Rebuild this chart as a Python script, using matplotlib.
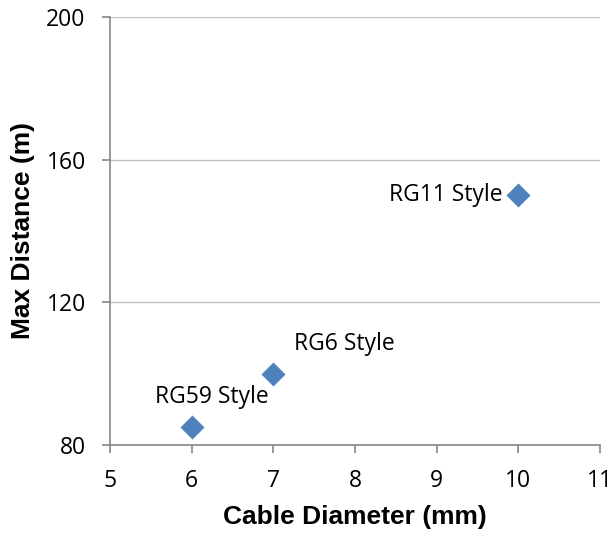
import matplotlib.pyplot as plt

diameter = [6, 7, 10]
distance = [85, 100, 150]
names = ["RG59 Style", "RG6 Style", "RG11 Style"]

fig = plt.figure(figsize=(6.16, 5.36), dpi=100)
ax = fig.add_axes([0.1786, 0.1698, 0.7954, 0.7985])

ax.scatter(diameter, distance, marker="D", s=150, color="#4F81BD", zorder=3, linewidths=0)

# label offsets in pixels
offsets = [(20, 30, "center"), (71, 30, "center"), (-16, 0, "right")]
for x, y, name, (dx, dy, ha) in zip(diameter, distance, names, offsets):
    ax.annotate(name, (x, y), xytext=(dx, dy), textcoords="offset pixels",
                ha=ha, va="center", fontsize=16.5, family="Open Sans")

ax.set_xlim(5, 11)
ax.set_ylim(80, 200)
ax.set_xticks(range(5, 12))
ax.set_yticks([80, 120, 160, 200])
ax.yaxis.grid(True, color="#BFBFBF", linewidth=0.9)
ax.set_axisbelow(True)

for s in ["top", "right"]:
    ax.spines[s].set_visible(False)
for s in ["left", "bottom"]:
    ax.spines[s].set_color("#868686")
    ax.spines[s].set_linewidth(1.2)
ax.tick_params(colors="#868686", length=6, width=1.2, labelcolor="black", labelsize=16.5)
ax.tick_params(axis="x", pad=11)
ax.tick_params(axis="y", pad=11.5)
for lab in ax.get_xticklabels() + ax.get_yticklabels():
    lab.set_family("Open Sans")

ax.set_xlabel("Cable Diameter (mm)", fontsize=19, fontweight="bold", family="Liberation Sans", labelpad=9)
ax.set_ylabel("Max Distance (m)", fontsize=19, fontweight="bold", family="Liberation Sans", labelpad=8)

fig.savefig("out.png")
